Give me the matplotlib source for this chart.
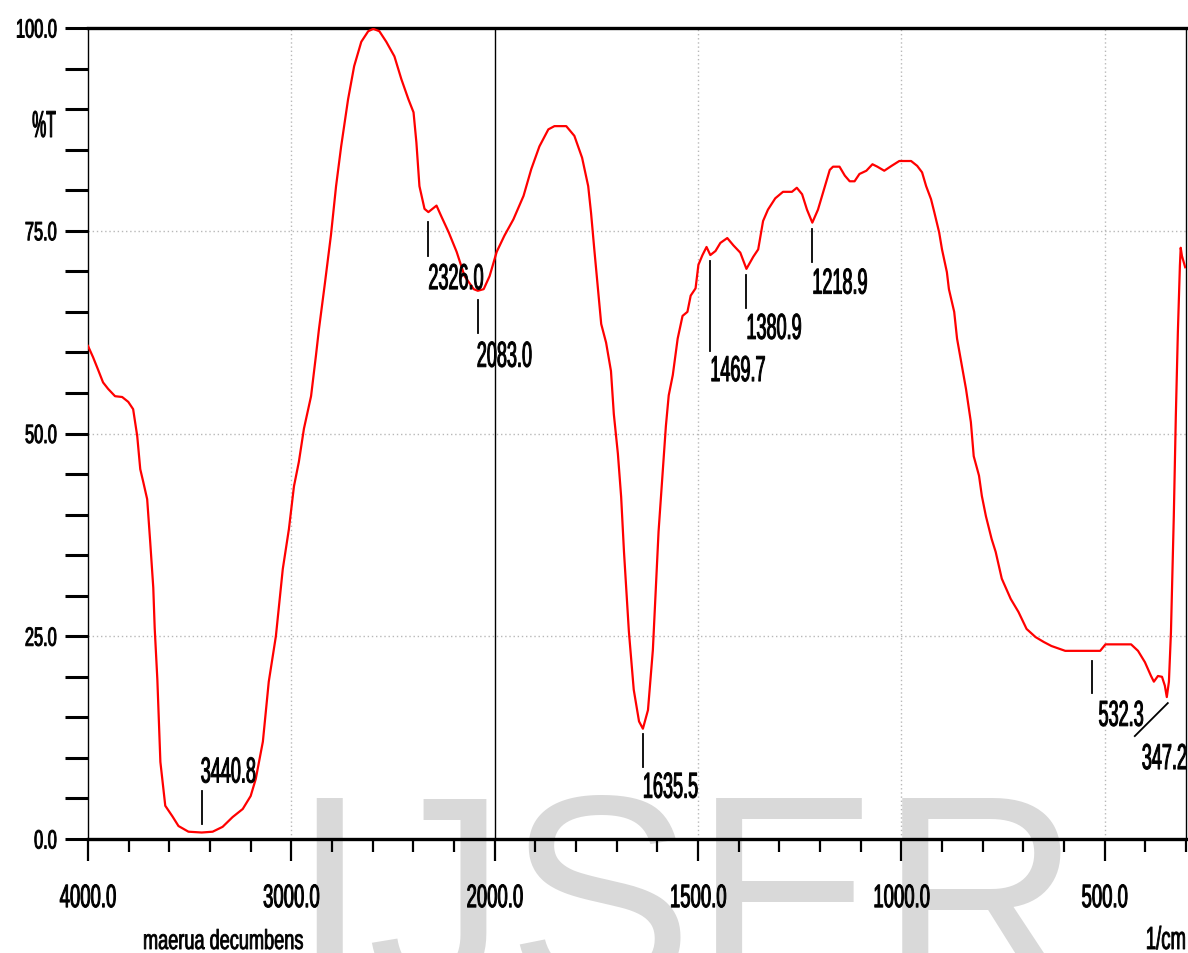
import numpy as np
import matplotlib
matplotlib.use("Agg")
import matplotlib.pyplot as plt
from matplotlib import transforms as mtransforms
from matplotlib.patheffects import AbstractPathEffect
from matplotlib.ticker import FixedLocator, FormatStrFormatter

# ---------------------------------------------------------------- data
wavenumber = [
    4000, 3975, 3951, 3926, 3901, 3867, 3832, 3802, 3778, 3758, 3743, 3728,
    3709, 3694, 3679, 3672, 3659, 3644, 3620, 3585, 3555, 3506, 3440.8, 3387,
    3338, 3289, 3239, 3200, 3175, 3140, 3111, 3076, 3042, 3012, 2987, 2963,
    2938, 2903, 2879, 2864, 2835, 2805, 2780, 2755, 2721, 2691, 2656, 2622,
    2597, 2567, 2533, 2493, 2459, 2424, 2399, 2385, 2370, 2345, 2326.0, 2286,
    2261, 2226, 2187, 2148, 2103, 2083.0, 2054, 2025, 1995, 1976, 1954, 1929,
    1910, 1890, 1868, 1853, 1824, 1804, 1785, 1770, 1763, 1755, 1746, 1738,
    1726, 1714, 1707, 1697, 1689, 1682, 1670, 1658, 1645, 1635.5, 1623, 1611,
    1604, 1597, 1587, 1579, 1572, 1562, 1550, 1538, 1526, 1518, 1506, 1499,
    1489, 1479, 1469.7, 1457, 1445, 1428, 1413, 1396, 1380.9, 1364, 1352, 1340,
    1328, 1310, 1291, 1269, 1257, 1244, 1232, 1218.9, 1205, 1188, 1176, 1168,
    1152, 1139, 1127, 1115, 1103, 1086, 1071, 1059, 1042, 1024, 1005, 976,
    961, 949, 939, 927, 919, 907, 900, 888, 883, 870, 863, 851,
    841, 829, 822, 809, 802, 792, 778, 768, 753, 731, 712, 692,
    670, 650, 631, 597, 532.3, 511, 498, 435, 418, 401, 386, 379,
    369, 359, 352, 347.2, 342, 337, 330, 325, 320, 315, 313, 310, 302,
]
transmittance = [
    60.8, 59.4, 57.9, 56.3, 55.5, 54.6, 54.5, 53.9, 53.0, 49.7, 45.6, 44.0,
    41.9, 36.6, 31.0, 26.0, 19.7, 9.5, 4.1, 2.8, 1.6, 0.9, 0.8, 0.9,
    1.5, 2.7, 3.7, 5.3, 7.4, 12.0, 19.4, 25.0, 33.3, 38.2, 43.5, 46.5,
    50.6, 54.6, 59.6, 62.9, 68.5, 74.5, 80.5, 85.4, 91.2, 95.3, 98.3, 99.6,
    99.9, 99.6, 98.3, 96.5, 93.7, 91.2, 89.6, 85.9, 80.5, 77.7, 77.3, 78.1,
    76.7, 74.8, 72.4, 69.4, 67.8, 67.6, 67.8, 69.4, 72.4, 74.4, 76.4, 79.3,
    82.6, 85.4, 87.5, 87.9, 87.9, 86.7, 84.0, 80.5, 77.2, 72.7, 67.9, 63.5,
    61.2, 57.7, 52.4, 47.5, 42.2, 35.4, 25.6, 18.4, 14.5, 13.6, 15.9, 23.3,
    30.6, 37.9, 45.1, 50.9, 54.7, 57.2, 61.7, 64.5, 65.0, 67.0, 67.9, 70.8,
    72.0, 73.0, 72.0, 72.5, 73.5, 74.1, 73.2, 72.3, 70.3, 71.8, 72.7, 76.2,
    77.6, 79.0, 79.8, 79.8, 80.3, 79.5, 77.6, 76.0, 77.6, 80.5, 82.5, 82.9,
    82.9, 81.8, 81.1, 81.1, 82.0, 82.4, 83.2, 82.9, 82.4, 83.0, 83.6, 83.6,
    83.0, 82.2, 80.5, 78.9, 77.3, 74.8, 72.7, 69.9, 67.8, 65.0, 61.7, 58.3,
    55.5, 51.4, 47.2, 44.8, 42.3, 39.8, 37.0, 35.4, 32.1, 29.6, 28.0, 25.9,
    24.9, 24.3, 23.8, 23.2, 23.2, 23.2, 24.0, 24.0, 23.2, 21.8, 20.1, 19.4,
    20.1, 20.0, 18.9, 17.5, 19.4, 25.5, 39.8, 52.2, 62.5, 70.7, 72.9, 71.9, 70.5,
]

peak_wavenumbers = [3440.8, 2326.0, 2083.0, 1635.5, 1469.7, 1380.9, 1218.9, 532.3, 347.2]
peak_transmittance = [0.8, 77.3, 67.6, 13.6, 72.0, 70.3, 76.0, 23.2, 17.5]

x_major_ticks = [4000, 3000, 2000, 1500, 1000, 500]
y_major_ticks = [0, 25, 50, 75, 100]
y_label = "%T"
x_unit = "1/cm"
sample_name = "maerua decumbens"
watermark = "IJSER"

# leader geometry per peak, in pixels relative to the peak
# (line start dx, dy, line end dx, dy, text dx, dy, vertical alignment)
leaders = [
    (0, 9, 0, 42, -1, 50, "baseline"),
    (0, -10, 0, -44, 0, -50, "top"),
    (0, -9, 0, -42, -1, -49, "top"),
    (0, -5, 0, -38, 0, -42, "top"),
    (0, -6, 0, -96, 0, -99, "top"),
    (0, -6, 0, -39, 0, -43, "top"),
    (0, -6, 0, -39, 0, -44, "top"),
    (0, -10, 0, -42, 7, -48, "top"),
    (1, -6, -32, -39, -25, -45, "top"),
]

FONT = ["Liberation Sans", "DejaVu Sans"]
DPI = 100
W, H = 1188, 954


class Narrow(AbstractPathEffect):
    """Squeeze glyph outlines horizontally about the text anchor and
    give them a light outline so the narrow strokes keep some weight."""

    def __init__(self, sx, anchor="left", stroke=0.6):
        super().__init__()
        self._sx = sx
        self._anchor = anchor
        self._stroke = stroke

    def draw_path(self, renderer, gc, tpath, affine, rgbFace=None):
        ext = tpath.get_extents()
        if self._anchor == "center":
            x0 = 0.5 * (ext.x0 + ext.x1)
        elif self._anchor == "right":
            x0 = ext.x1
        else:
            x0 = 0.0
        squeeze = mtransforms.Affine2D().translate(-x0, 0).scale(self._sx, 1).translate(x0, 0)
        trans = squeeze + affine
        if self._stroke > 0 and rgbFace is not None:
            gc0 = renderer.new_gc()
            gc0.copy_properties(gc)
            gc0.set_linewidth(self._stroke)
            gc0.set_foreground(rgbFace)
            gc0.set_joinstyle("round")
            renderer.draw_path(gc0, tpath, trans, rgbFace)
            gc0.restore()
        else:
            renderer.draw_path(gc, tpath, trans, rgbFace)


def fold(x):
    x = np.asarray(x, dtype=float)
    return np.where(x > 2000, 2000 + (x - 2000) / 2.0, x)


def unfold(t):
    t = np.asarray(t, dtype=float)
    return np.where(t > 2000, 2000 + (t - 2000) * 2.0, t)


fig = plt.figure(figsize=(W / DPI, H / DPI), dpi=DPI, facecolor="white")
ax = fig.add_axes([88 / W, 1 - 840 / H, (1186 - 88) / W, (840 - 29) / H])
ax.set_facecolor("none")

ax.set_xscale("function", functions=(fold, unfold))
ax.set_xlim(4000, 300)
ax.set_ylim(0, 100)

# grid
grid_kw = dict(color="#b8b8b8", lw=1.0, ls=(0, (1, 2)), zorder=1)
for v in (25, 50, 75):
    ax.axhline(v, **grid_kw)
for v in (3000, 1500, 1000, 500):
    ax.axvline(v, **grid_kw)
ax.axvline(2000, color="black", lw=1.0, zorder=1)

# spectrum
ax.plot(wavenumber, transmittance, color="#ff0000", lw=1.6, zorder=3,
        solid_joinstyle="round")

# peak markers
for wn, t, (lx0, ly0, lx1, ly1, tx, ty, va) in zip(peak_wavenumbers, peak_transmittance, leaders):
    anchor = mtransforms.Affine2D() + mtransforms.ScaledTranslation(wn, t, ax.transData)
    ax.plot([lx0, lx1], [ly0, ly1], color="black", lw=1.3, transform=anchor,
            clip_on=False, zorder=4)
    ax.text(tx, ty, f"{wn:.1f}", transform=anchor, ha="left", va=va,
            fontsize=26, family=FONT, color="black", zorder=5,
            path_effects=[Narrow(0.5, "left", 0.7)])

# spines
for side in ("top", "bottom"):
    ax.spines[side].set_linewidth(2.4)
for side in ("left", "right"):
    ax.spines[side].set_linewidth(1.0)

# ticks
ax.xaxis.set_major_locator(FixedLocator(x_major_ticks))
x_minor = [v for v in list(range(3800, 2000, -200)) + list(range(1900, 299, -100))
           if v not in x_major_ticks]
ax.xaxis.set_minor_locator(FixedLocator(x_minor))
ax.xaxis.set_major_formatter(FormatStrFormatter("%.1f"))
ax.yaxis.set_major_locator(FixedLocator(y_major_ticks))
ax.yaxis.set_minor_locator(FixedLocator([v for v in range(0, 101, 5) if v % 25]))
ax.yaxis.set_major_formatter(FormatStrFormatter("%.1f"))

ax.tick_params(axis="y", which="both", direction="out", length=16.5, width=2.2,
               pad=5.8, labelsize=19)
ax.tick_params(axis="x", which="major", direction="out", length=16, width=1.6,
               pad=16.5, labelsize=23.4)
ax.tick_params(axis="x", which="minor", direction="out", length=9, width=1.6)

for lbl in ax.get_xticklabels():
    lbl.set_family(FONT)
    lbl.set_path_effects([Narrow(0.57, "center", 0.7)])
for lbl in ax.get_yticklabels():
    lbl.set_family(FONT)
    lbl.set_path_effects([Narrow(0.62, "right", 0.7)])

# axis captions
fig.text(44 / W, 1 - 128 / H, y_label, ha="center", va="center", fontsize=27,
         family=FONT, path_effects=[Narrow(0.42, "center", 0.7)])
fig.text(143 / W, 1 - 950 / H, sample_name, ha="left", va="baseline",
         fontsize=19.8, family=FONT, path_effects=[Narrow(0.66, "left", 0.6)])
fig.text(1187 / W, 1 - 950 / H, x_unit, ha="right", va="baseline",
         fontsize=23, family=FONT, path_effects=[Narrow(0.58, "right", 0.6)])

# faint background mark
fig.text(290 / W, 1 - 990 / H, watermark, ha="left", va="baseline",
         fontsize=201, family=FONT, color="#d9d9d9", zorder=-10)

fig.savefig("out.png", dpi=DPI, facecolor="white")
